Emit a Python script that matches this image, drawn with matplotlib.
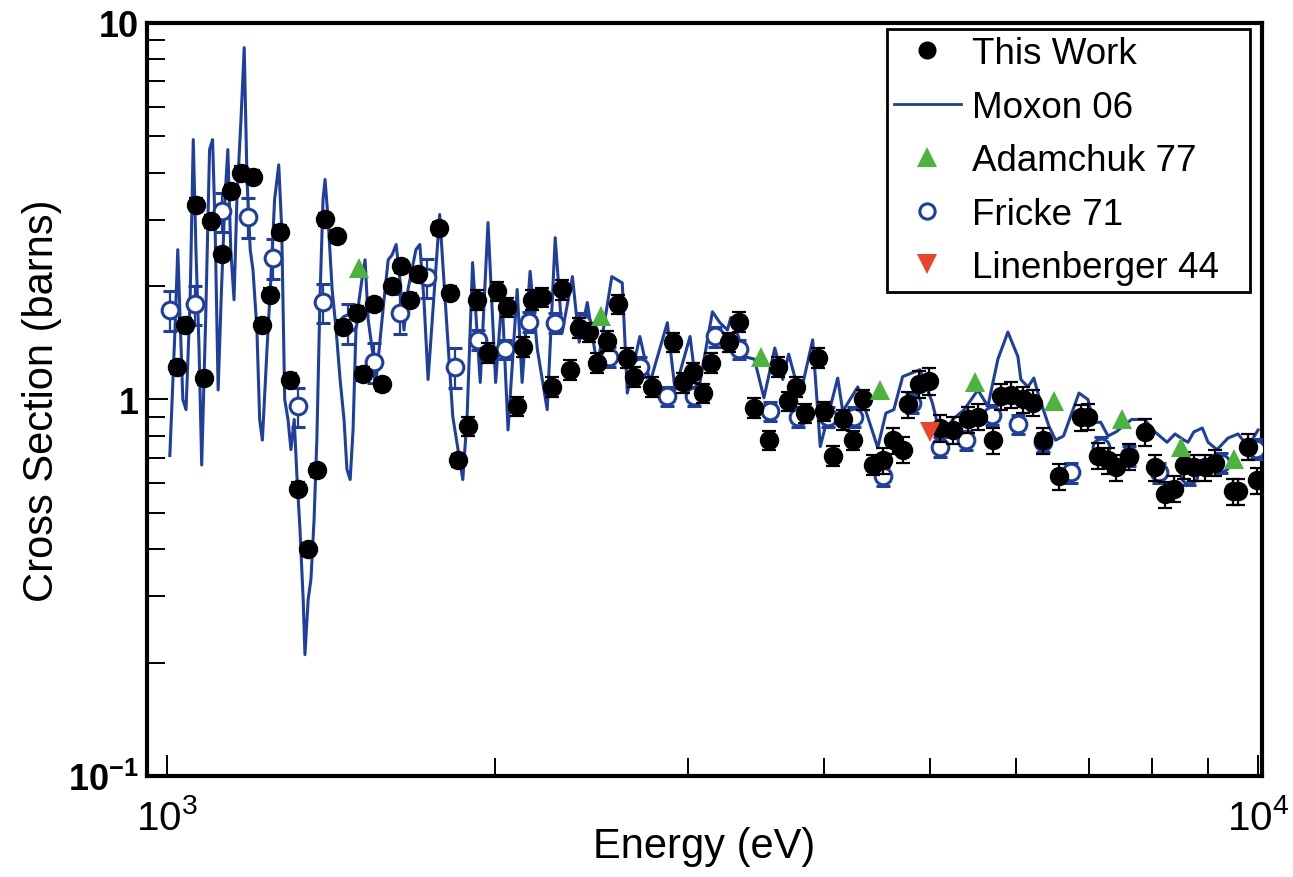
import matplotlib
matplotlib.use('Agg')
import matplotlib.pyplot as plt
from matplotlib.lines import Line2D
from matplotlib.ticker import FixedLocator, FixedFormatter, LogLocator, NullFormatter
import numpy as np

plt.rcParams['font.family'] = ['Liberation Sans', 'DejaVu Sans']
plt.rcParams['mathtext.default'] = 'regular'

### Data (energy in eV, cross section in barns)
# This Work
this_E = [1021, 1039, 1063, 1082, 1098, 1122, 1145, 1169, 1199, 1221,
          1243, 1269, 1296, 1318, 1346, 1372, 1396, 1432, 1450, 1493,
          1512, 1549, 1575, 1608, 1638, 1670, 1698, 1776, 1817, 1849,
          1888, 1924, 1969, 2007, 2050, 2094, 2120, 2162, 2208, 2255,
          2302, 2340, 2387, 2439, 2480, 2533, 2592, 2642, 2680, 2785,
          2907, 2969, 3032, 3097, 3155, 3276, 3345, 3455, 3560, 3628,
          3706, 3768, 3847, 3948, 3999, 4076, 4163, 4252, 4342, 4435,
          4530, 4627, 4726, 4775, 4887, 4992, 5110, 5250, 5421, 5537,
          5714, 5816, 5936, 6089, 6220, 6350, 6574, 6882, 6985, 7134,
          7287, 7410, 7617, 7871, 8047, 8218, 8377, 8557, 8738, 8940,
          9134, 9490, 9589, 9793, 9990]
this_xs = [1.22, 1.58, 3.29, 1.14, 2.97, 2.43, 3.57, 4.00, 3.91, 1.58,
           1.90, 2.79, 1.13, 0.58, 0.40, 0.65, 3.01, 2.71, 1.56, 1.70,
           1.17, 1.79, 1.10, 2.00, 2.26, 1.84, 2.15, 2.85, 1.92, 0.69,
           0.85, 1.84, 1.33, 1.94, 1.76, 0.96, 1.38, 1.84, 1.87, 1.08,
           1.96, 1.20, 1.55, 1.51, 1.25, 1.43, 1.79, 1.29, 1.15, 1.08,
           1.42, 1.11, 1.18, 1.04, 1.25, 1.42, 1.61, 0.95, 0.78, 1.22,
           0.99, 1.08, 0.92, 1.29, 0.93, 0.71, 0.885, 0.78, 1.00, 0.67,
           0.69, 0.78, 0.736, 0.97, 1.10, 1.12, 0.84, 0.83, 0.885, 0.90,
           0.78, 1.02, 1.03, 1.00, 0.98, 0.78, 0.625, 0.896, 0.90, 0.71,
           0.69, 0.66, 0.705, 0.82, 0.66, 0.56, 0.58, 0.67, 0.66, 0.66,
           0.68, 0.57, 0.57, 0.75, 0.61]
this_relerr = [0.04] * 30 + [0.06] * 40 + [0.08] * 35

# Moxon 06
moxon_E = [1006, 1017, 1023, 1034, 1041, 1050, 1057, 1063, 1070, 1076,
           1085, 1094, 1101, 1107, 1114, 1121, 1130, 1137, 1144, 1152,
           1159, 1169, 1177, 1184, 1192, 1199, 1209, 1216, 1223, 1235,
           1245, 1255, 1266, 1274, 1282, 1291, 1299, 1308, 1316, 1324,
           1333, 1338, 1347, 1355, 1364, 1372, 1381, 1390, 1396, 1405,
           1417, 1429, 1441, 1453, 1462, 1472, 1481, 1490, 1500, 1509,
           1519, 1529, 1542, 1555, 1568, 1581, 1595, 1608, 1622, 1635,
           1649, 1663, 1677, 1691, 1705, 1720, 1735, 1778, 1797, 1828,
           1867, 1884, 1906, 1937, 1969, 2001, 2028, 2054, 2094, 2116,
           2152, 2185, 2231, 2269, 2302, 2353, 2387, 2428, 2480, 2557,
           2614, 2642, 2713, 2772, 2875, 2922, 3016, 3064, 3162, 3212,
           3264, 3287, 3340, 3380, 3455, 3525, 3607, 3668, 3714, 3804,
           3907, 3970, 4119, 4163, 4297, 4388, 4482, 4560, 4637, 4724,
           4900, 5030, 5126, 5250, 5380, 5537, 5655, 5776, 5899, 6025,
           6063, 6154, 6231, 6297, 6432, 6525, 6634, 6854, 6985, 7070,
           7176, 7287, 7410, 7659, 7871, 8047, 8253, 8394, 8557, 8628,
           8733, 8892, 9000, 9172, 9388, 9589, 9793, 10002]
moxon_xs = [0.71, 1.53, 2.50, 1.00, 0.94, 1.84, 4.90, 2.50, 1.36, 0.67,
            1.63, 4.61, 4.90, 2.83, 1.06, 1.84, 3.40, 4.61, 2.50, 1.84,
            3.40, 5.54, 8.6, 3.84, 2.50, 2.21, 1.53, 0.885, 0.78, 1.36,
            2.08, 3.40, 4.2, 2.83, 1.0, 0.885, 0.736, 0.885, 0.613, 0.452,
            0.294, 0.21, 0.294, 0.333, 0.48, 0.78, 1.84, 3.40, 3.84, 3.01,
            1.96, 1.53, 1.13, 0.885, 0.652, 0.613, 0.832, 1.53, 1.84, 2.08,
            2.35, 1.63, 1.36, 1.13, 1.44, 1.84, 2.35, 2.42, 2.58, 2.08,
            1.53, 1.96, 2.21, 2.50, 2.58, 1.84, 1.13, 3.1, 1.92, 0.90,
            0.613, 0.90, 2.31, 1.11, 2.95, 1.11, 1.88, 0.83, 1.96, 1.11,
            2.19, 1.36, 0.94, 2.69, 1.50, 2.12, 1.42, 1.81, 1.22, 2.12,
            2.04, 1.04, 1.47, 1.11, 1.60, 1.06, 1.47, 1.02, 1.71, 1.60,
            1.53, 1.65, 1.47, 1.30, 1.28, 1.01, 1.37, 1.13, 1.32, 1.02,
            1.44, 0.75, 1.14, 0.93, 1.08, 0.90, 0.745, 0.92, 0.94, 1.15,
            1.20, 0.98, 0.78, 0.885, 0.94, 1.06, 0.96, 1.28, 1.51, 1.30,
            1.13, 1.08, 1.14, 1.02, 0.85, 0.78, 0.80, 1.04, 1.00, 0.87,
            0.87, 0.80, 0.82, 0.885, 0.885, 0.82, 0.77, 0.81, 0.78, 0.77,
            0.82, 0.84, 0.77, 0.736, 0.79, 0.81, 0.75, 0.83]

# Adamchuk 77
adam_E = [1500, 2500, 3500, 4500, 5500, 6500, 7500, 8500, 9500]
adam_xs = [2.24, 1.67, 1.30, 1.06, 1.11, 0.99, 0.885, 0.746, 0.693]

# Fricke 71
fricke_E = [1006, 1061, 1123, 1186, 1250, 1318, 1390, 1465, 1549, 1635,
            1731, 1837, 1929, 2041, 2148, 2269, 2403, 2544, 2713, 2875,
            3042, 3178, 3345, 3568, 3785, 4033, 4260, 4530, 4823, 5110,
            5401, 5703, 6025, 6350, 6745, 7176, 7617, 8115, 8646, 9250,
            9960]
fricke_xs = [1.73, 1.79, 3.16, 3.06, 2.38, 0.96, 1.81, 1.60, 1.26, 1.70,
             2.11, 1.22, 1.44, 1.36, 1.61, 1.60, 1.60, 1.30, 1.22, 1.02,
             1.02, 1.47, 1.36, 0.93, 0.90, 0.90, 0.90, 0.625, 0.98, 0.75,
             0.78, 0.91, 0.86, 0.77, 0.64, 0.75, 0.71, 0.64, 0.63, 0.68,
             0.74]
fricke_relerr = [0.12] * 12 + [0.06] * 29

# Linenberger 44
lin_E = [5000]
lin_xs = [0.82]

blue = '#1f3f9f'
green = '#4cb43c'
red = '#e8452c'

fig = plt.figure(figsize=(12.93, 8.78), dpi=100)
ax = fig.add_axes([0.1137, 0.115, 0.8623, 0.8577])
ax.set_xscale('log')
ax.set_yscale('log')

# Moxon line
ax.plot(moxon_E, moxon_xs, color=blue, lw=2.2, zorder=3)

# Fricke open circles with error bars
f_err = np.array(fricke_xs) * np.array(fricke_relerr)
ax.errorbar(fricke_E, fricke_xs, yerr=f_err, fmt='o', mfc='white', mec=blue, mew=2.2,
            ms=12, ecolor=blue, elinewidth=1.6, capsize=5, capthick=1.6, zorder=4)

# This work filled dots with error bars
t_err = np.array(this_xs) * np.array(this_relerr)
ax.errorbar(this_E, this_xs, yerr=t_err, fmt='o', color='black', ms=13,
            ecolor='black', elinewidth=1.6, capsize=5, capthick=1.6, zorder=5)

ax.plot(adam_E, adam_xs, '^', color=green, ms=15, mew=0, zorder=6)
ax.plot(lin_E, lin_xs, 'v', color=red, ms=15, mew=0, zorder=6)

ax.set_xlim(958.7, 10085)
ax.set_ylim(0.1, 10)

# Ticks
ax.xaxis.set_major_locator(FixedLocator([1e3, 1e4]))
ax.xaxis.set_major_formatter(FixedFormatter([r'$10^{3}$', r'$10^{4}$']))
ax.xaxis.set_minor_locator(LogLocator(base=10, subs=np.arange(2, 10)))
ax.xaxis.set_minor_formatter(NullFormatter())
ax.yaxis.set_major_locator(FixedLocator([0.1, 1, 10]))
ax.yaxis.set_major_formatter(FixedFormatter([r'$10^{-1}$', '1', '10']))
ax.yaxis.set_minor_locator(LogLocator(base=10, subs=np.arange(2, 10)))
ax.yaxis.set_minor_formatter(NullFormatter())
ax.tick_params(which='both', direction='in', top=False, right=False, width=1.4, color='black')
ax.tick_params(which='major', length=15)
ax.tick_params(which='minor', length=13)
ax.tick_params(axis='x', which='major', labelsize=29, pad=16)
ax.tick_params(axis='y', which='major', labelsize=26, pad=6)
for lab in ax.get_yticklabels():
    lab.set_fontweight('bold')

for s in ax.spines.values():
    s.set_linewidth(3)

ax.set_xlabel('Energy (eV)', fontsize=30, labelpad=-8)
ax.set_ylabel('Cross Section (barns)', fontsize=30, labelpad=4)

# Legend, stretched to the box seen in the original
handles = [
    Line2D([], [], ls='none', marker='o', color='black', ms=12),
    Line2D([], [], color=blue, lw=2.0),
    Line2D([], [], ls='none', marker='^', color=green, mew=0, ms=15),
    Line2D([], [], ls='none', marker='o', mfc='white', mec=blue, mew=2.2, ms=11),
    Line2D([], [], ls='none', marker='v', color=red, mew=0, ms=15),
]
labels = ['This Work', 'Moxon 06', 'Adamchuk 77', 'Fricke 71', 'Linenberger 44']
leg = ax.legend(handles, labels, loc='upper left', bbox_to_anchor=(0.6637, 0.651, 0.3256, 0.341),
                mode='expand', borderaxespad=0, fontsize=26.5, frameon=True, fancybox=False,
                edgecolor='black', framealpha=1, handlelength=1.8, handletextpad=0.3,
                labelspacing=0.5, borderpad=0.2)
leg.get_frame().set_linewidth(2)
leg.set_zorder(10)

plt.savefig('out.png', dpi=100)
